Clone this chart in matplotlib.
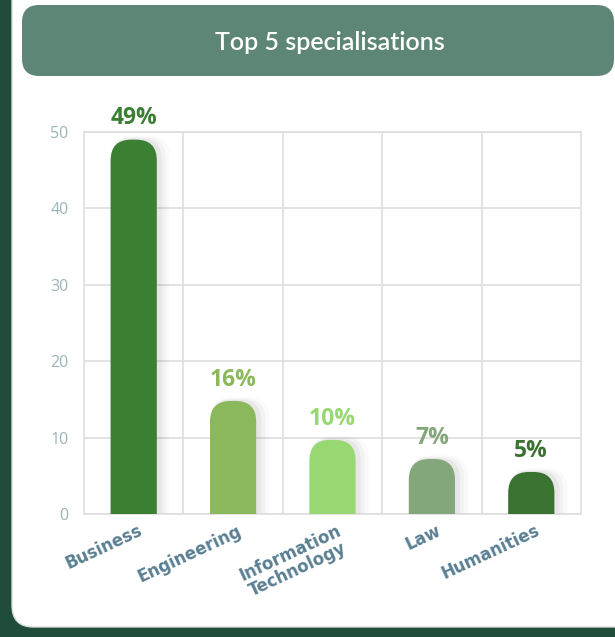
import matplotlib.pyplot as plt
from matplotlib.patches import FancyBboxPatch

categories = ['Business', 'Engineering', 'Information\nTechnology', 'Law', 'Humanities']
heights = [49, 14.8, 9.7, 7.2, 5.5]
labels = ['49%', '16%', '10%', '7%', '5%']
colors = ['#3b7f33', '#8ab85b', '#97d872', '#83a77a', '#3a7331']
yticks = [0, 10, 20, 30, 40, 50]

fig = plt.figure(figsize=(6.15, 6.37), dpi=100)
fig.patch.set_facecolor('#1f4d3a')
W, H = 615, 637

# white card and title banner, drawn in figure coords
card = FancyBboxPatch((12 / W, 10 / H), 640 / W, 660 / H,
                      boxstyle='round,pad=0,rounding_size=0.035',
                      mutation_aspect=W / H,
                      transform=fig.transFigure, facecolor='white',
                      edgecolor='#d8dedb', lw=1, zorder=-5)
fig.patches.append(card)
banner = FancyBboxPatch((22 / W, (H - 76) / H), 592 / W, 71 / H,
                        boxstyle='round,pad=0,rounding_size=0.028',
                        mutation_aspect=W / H,
                        transform=fig.transFigure, facecolor='#5e8676',
                        edgecolor='none', zorder=-4)
fig.patches.append(banner)
fig.text(330 / W, (H - 43) / H, 'Top 5 specialisations', color='white',
         fontsize=18, fontweight='semibold', family='Lato',
         ha='center', va='center')

ax = fig.add_axes([84 / W, (H - 514) / H, 497 / W, 382 / H])
ax.set_facecolor('none')
ax.set_xlim(-0.5, 4.5)
ax.set_ylim(0, 50)

# data units per pixel, used for round tops
ux = 5 / 497
uy = 50 / 382
bw = 0.465
r = bw / 2 * 0.9
for i, (h, c) in enumerate(zip(heights, colors)):
    # soft shadow
    for k, a in [(12, 0.02), (8, 0.03), (4, 0.045)]:
        s = FancyBboxPatch((i - bw / 2 + 1 * ux, -5), bw + k * ux, h + 5 + k * uy * 0.3,
                           boxstyle='round,pad=0,rounding_size=%f' % r,
                           mutation_aspect=uy / ux, facecolor='black',
                           edgecolor='none', alpha=a, zorder=2)
        ax.add_patch(s)
    p = FancyBboxPatch((i - bw / 2, -5), bw, h + 5,
                       boxstyle='round,pad=0,rounding_size=%f' % r,
                       mutation_aspect=uy / ux, facecolor=c,
                       edgecolor='none', zorder=3)
    ax.add_patch(p)
    ax.text(i, h + 1.2, labels[i], color=c, fontsize=16.5, fontweight='bold',
            family='Open Sans', ha='center', va='bottom', clip_on=False)

ax.set_yticks(yticks)
ax.set_xticks([0.5, 1.5, 2.5, 3.5])
ax.set_xticklabels([])
ax.grid(True, color='#dedede', lw=1.2, zorder=0)
ax.set_axisbelow(True)
for sp in ax.spines.values():
    sp.set_color('#dedede')
    sp.set_linewidth(1.2)
ax.tick_params(length=0)
for t in ax.set_yticklabels([str(v) for v in yticks]):
    t.set_color('#9ab4b8')
    t.set_fontsize(11.5)
    t.set_family('Open Sans')
ax.tick_params(axis='y', pad=11)

for i, name in enumerate(categories):
    ax.text(i + 0.04, -1.0, name, rotation=25, rotation_mode='anchor',
            ha='right', va='top', color='#5a7f92', fontsize=12,
            fontweight='bold', family='DejaVu Sans', linespacing=1.0,
            clip_on=False, multialignment='center')

fig.savefig('out.png', dpi=100, facecolor=fig.get_facecolor())
